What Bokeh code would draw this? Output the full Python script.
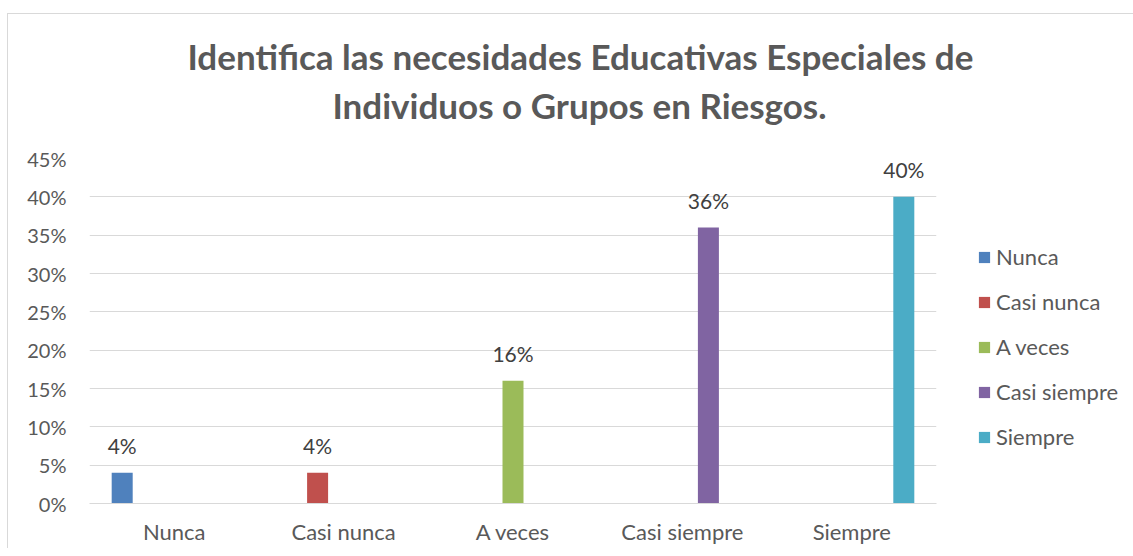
from bokeh.plotting import figure
from bokeh.models import (ColumnDataSource, FactorRange, Range1d, FixedTicker,
                          NumeralTickFormatter, Legend, LegendItem, LabelSet, Title)
from bokeh.transform import dodge
from bokeh.embed import file_html
from bokeh.resources import INLINE
from bokeh.core.properties import value

# ---- data ----
categories = ["Nunca", "Casi nunca", "A veces", "Casi siempre", "Siempre"]
series_names = ["Nunca", "Casi nunca", "A veces", "Casi siempre", "Siempre"]
nunca = [0.04, 0, 0, 0, 0]
casi_nunca = [0, 0.04, 0, 0, 0]
a_veces = [0, 0, 0.16, 0, 0]
casi_siempre = [0, 0, 0, 0.36, 0]
siempre = [0, 0, 0, 0, 0.40]
y_ticks = [0, 0.05, 0.10, 0.15, 0.20, 0.25, 0.30, 0.35, 0.40, 0.45]
title_lines = ["Identifica las necesidades Educativas Especiales de",
               "Individuos o Grupos en Riesgos."]
colors = ["#4F81BD", "#C0504D", "#9BBB59", "#8064A2", "#4BACC6"]

series_values = [nunca, casi_nunca, a_veces, casi_siempre, siempre]
offsets = [-0.307, -0.1535, 0.0, 0.1535, 0.307]
bar_width = 0.124

FONT = "Lato"
TXT = "#595959"

p = figure(x_range=FactorRange(*categories), y_range=Range1d(0, 0.45),
           frame_width=847, frame_height=345,
           min_border_left=81, min_border_right=188,
           min_border_top=144, min_border_bottom=45,
           output_backend="svg", toolbar_location=None,
           margin=(13, 0, 0, 7),
           styles={"border-left": "1px solid #d9d9d9", "border-top": "1px solid #d9d9d9"})
p.outline_line_color = None
p.background_fill_color = "white"
p.border_fill_color = "white"

data = {"cat": categories}
for name, vals in zip(series_names, series_values):
    data[name] = vals
src = ColumnDataSource(data)

items = []
for name, vals, off, col in zip(series_names, series_values, offsets, colors):
    r = p.vbar(x=dodge("cat", off, range=p.x_range), top=name, width=bar_width,
               source=src, fill_color=col, line_color=None)
    items.append(LegendItem(label=name, renderers=[r]))
    nz = [(c, v) for c, v in zip(categories, vals) if v > 0]
    lsrc = ColumnDataSource(dict(cat=[c for c, v in nz], val=[v for c, v in nz],
                                 txt=[f"{round(v * 100)}%" for c, v in nz]))
    p.add_layout(LabelSet(x=dodge("cat", off, range=p.x_range), y="val", text="txt",
                          source=lsrc, y_offset=19, text_align="center",
                          text_baseline="alphabetic", text_font=value(FONT),
                          text_font_size="21px", text_color="#404040"))

# axes
p.yaxis.ticker = FixedTicker(ticks=y_ticks)
p.yaxis.formatter = NumeralTickFormatter(format="0%")
p.yaxis.axis_line_color = None
p.yaxis.major_tick_line_color = None
p.yaxis.minor_tick_line_color = None
p.yaxis.major_label_text_font = FONT
p.yaxis.major_label_text_font_size = "20px"
p.yaxis.major_label_text_color = TXT
p.yaxis.major_label_standoff = 17

p.xaxis.axis_line_color = "#d9d9d9"
p.xaxis.major_tick_line_color = None
p.xaxis.minor_tick_line_color = None
p.xaxis.major_label_text_font = FONT
p.xaxis.major_label_text_font_size = "22px"
p.xaxis.major_label_text_color = TXT
p.xaxis.major_label_standoff = 8

p.xgrid.grid_line_color = None
p.ygrid.grid_line_color = "#d9d9d9"
p.ygrid.grid_line_width = 1

# legend (outside, right)
legend = Legend(items=items, location=(41, 53), orientation="vertical",
                glyph_width=14, glyph_height=14, label_standoff=5,
                label_text_font=FONT, label_text_font_size="22px",
                label_text_color=TXT, spacing=18, padding=0, margin=0,
                border_line_color=None, background_fill_alpha=0)
p.add_layout(legend, "right")

# title (two lines): inner line first
p.add_layout(Title(text=title_lines[1], align="left", offset=243, standoff=65,
                   text_font=FONT, text_font_size="35px", text_font_style="bold",
                   text_color=TXT), "above")
p.add_layout(Title(text=title_lines[0], align="left", offset=98, standoff=-54,
                   text_font=FONT, text_font_size="35px", text_font_style="bold",
                   text_color=TXT), "above")

open("out.html", "w").write(file_html(p, INLINE))
